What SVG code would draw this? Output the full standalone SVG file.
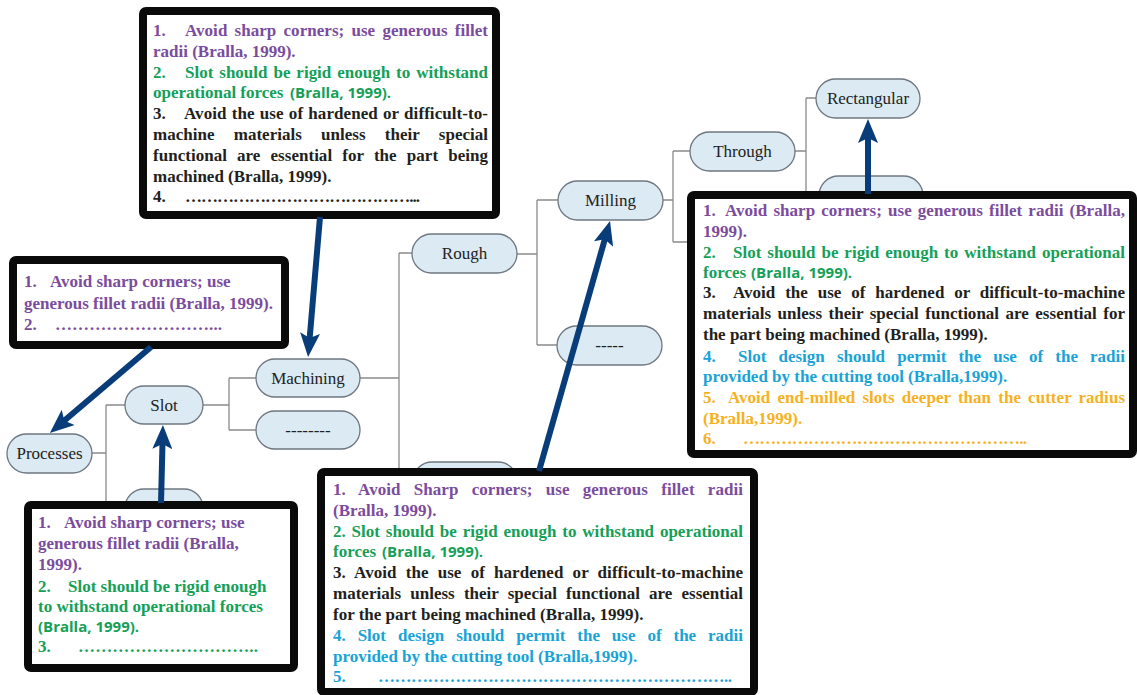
<svg xmlns="http://www.w3.org/2000/svg" width="1137" height="695" viewBox="0 0 1137 695">
  <style>
    .conn { fill: none; stroke: #8a8a8a; stroke-width: 1.3; }
    .node rect { fill: #dbeaf3; stroke: #6f7780; stroke-width: 1.3; }
    .node text { font-family: "Liberation Serif", "Times New Roman", serif; font-size: 17px; fill: #222; text-anchor: middle; }
    .frame { fill: #fff; stroke: #0a0a0a; stroke-width: 8; }
    .t { font-family: "Liberation Serif", "Times New Roman", serif; font-size: 17px; font-weight: bold; }
    .s { font-family: "Open Sans", "Liberation Sans", sans-serif; font-size: 15px; font-weight: bold; }
    .p { fill: #7b4c9e; }
    .g { fill: #15a058; }
    .k { fill: #231f20; }
    .c { fill: #1aa3d6; }
    .o { fill: #f6b11f; }
    .arrow { stroke: #083d7a; stroke-width: 6; fill: none; marker-end: url(#head); }
  </style>
  <defs>
    <marker id="head" markerUnits="userSpaceOnUse" markerWidth="24" markerHeight="20" viewBox="0 0 24 20" refX="6" refY="10" orient="auto">
      <path d="M0,0 L24,10 L0,20 L5,10 z" fill="#083d7a"/>
    </marker>
  </defs>

  <rect width="1137" height="695" fill="#fff"/>

  <!-- tree connectors -->
  <g id="connectors">
    <path class="conn" d="M92,453 H106 M106,405 V508 M106,405 H125 M106,508 H125"/>
    <path class="conn" d="M203,405 H229 M229,378 V430 M229,378 H256 M229,430 H256"/>
    <path class="conn" d="M360,378 H399 M399,253 V481 M399,253 H412 M399,481 H413"/>
    <path class="conn" d="M517,254 H537 M537,200 V345 M537,200 H558 M537,345 H557"/>
    <path class="conn" d="M663,200 H673 M673,151 V242 M673,151 H690 M673,242 H700"/>
    <path class="conn" d="M795,151 H806 M806,98 V195 M806,98 H816 M806,195 H819"/>
  </g>

  <!-- tree nodes -->
  <g id="node-processes" class="node"><rect x="7" y="434" width="85" height="39" rx="19.5"/><text x="49.5" y="459">Processes</text></g>
  <g id="node-slot" class="node"><rect x="125" y="386" width="78" height="38" rx="19"/><text x="164" y="411">Slot</text></g>
  <g id="node-slot-2" class="node"><rect x="125" y="489" width="78" height="38" rx="19"/></g>
  <g id="node-machining" class="node"><rect x="256" y="359" width="104" height="38" rx="19"/><text x="308" y="384">Machining</text></g>
  <g id="node-machining-other" class="node"><rect x="256" y="411" width="104" height="38" rx="19"/><text x="308" y="436">--------</text></g>
  <g id="node-rough" class="node"><rect x="412" y="234" width="105" height="39" rx="19.5"/><text x="464.5" y="259">Rough</text></g>
  <g id="node-rough-sibling" class="node"><rect x="413" y="462" width="104" height="38" rx="19"/></g>
  <g id="node-milling" class="node"><rect x="558" y="181" width="105" height="39" rx="19.5"/><text x="610.5" y="206">Milling</text></g>
  <g id="node-milling-other" class="node"><rect x="557" y="326" width="105" height="39" rx="19.5"/><text x="609.5" y="351">-----</text></g>
  <g id="node-through" class="node"><rect x="690" y="132" width="105" height="39" rx="19.5"/><text x="742.5" y="157">Through</text></g>
  <g id="node-through-sibling" class="node"><rect x="700" y="223" width="104" height="38" rx="19"/></g>
  <g id="node-rectangular" class="node"><rect x="816" y="79" width="104" height="39" rx="19.5"/><text x="868" y="104">Rectangular</text></g>
  <g id="node-rectangular-sibling" class="node"><rect x="819" y="176" width="104" height="39" rx="19.5"/></g>

  <!-- note: machining guidelines -->
  <g id="note-machining">
    <rect class="frame" x="143" y="11" width="353" height="204" rx="3"/>
    <text class="t p" x="153" y="36">1.</text>
    <text class="t p" x="185" y="36" word-spacing="2.9" textLength="303" lengthAdjust="spacing">Avoid sharp corners; use generous fillet</text>
    <text class="t p" x="153" y="57">radii (Bralla, 1999).</text>
    <text class="t g" x="153" y="78">2.</text>
    <text class="t g" x="185" y="78" word-spacing="1.7" textLength="303" lengthAdjust="spacing">Slot should be rigid enough to withstand</text>
    <text class="t g" x="153" y="98">operational forces</text>
    <text class="s g" x="290" y="98">(Bralla, 1999).</text>
    <text class="t k" x="153" y="119">3.</text>
    <text class="t k" x="184" y="119" word-spacing="0.9" textLength="304" lengthAdjust="spacing">Avoid the use of hardened or difficult-to-</text>
    <text class="t k" x="153" y="140" word-spacing="15" textLength="335" lengthAdjust="spacing">machine materials unless their special</text>
    <text class="t k" x="153" y="161" word-spacing="5.9" textLength="335" lengthAdjust="spacing">functional are essential for the part being</text>
    <text class="t k" x="153" y="182">machined (Bralla, 1999).</text>
    <text class="t k" x="153" y="202">4.</text>
    <text class="t k" x="185" y="202" textLength="235" lengthAdjust="spacing">……………………………………...</text>
  </g>

  <!-- note: process guidelines -->
  <g id="note-processes">
    <rect class="frame" x="13" y="260" width="272" height="85" rx="3"/>
    <text class="t p" x="24" y="287">1.</text>
    <text class="t p" x="50" y="287">Avoid sharp corners; use</text>
    <text class="t p" x="24" y="309">generous fillet radii (Bralla, 1999).</text>
    <text class="t p" x="24" y="330">2.</text>
    <text class="t p" x="55" y="330" textLength="167" lengthAdjust="spacing">………………………...</text>
  </g>

  <!-- note: slot guidelines -->
  <g id="note-slot">
    <rect class="frame" x="28" y="505" width="266" height="163" rx="3"/>
    <text class="t p" x="38" y="528">1.</text>
    <text class="t p" x="64" y="528">Avoid sharp corners; use</text>
    <text class="t p" x="38" y="549">generous fillet radii (Bralla,</text>
    <text class="t p" x="38" y="570">1999).</text>
    <text class="t g" x="38" y="592">2.</text>
    <text class="t g" x="68" y="592">Slot should be rigid enough</text>
    <text class="t g" x="38" y="612">to withstand operational forces</text>
    <text class="s g" x="38" y="632">(Bralla, 1999).</text>
    <text class="t g" x="38" y="652">3.</text>
    <text class="t g" x="78" y="652" textLength="180" lengthAdjust="spacing">…………………………..</text>
  </g>

  <!-- note: milling guidelines -->
  <g id="note-milling">
    <rect class="frame" x="321" y="472" width="433" height="220" rx="3"/>
    <text class="t p" x="333" y="495" word-spacing="8.9" textLength="410" lengthAdjust="spacing">1. Avoid Sharp corners; use generous fillet radii</text>
    <text class="t p" x="333" y="516">(Bralla, 1999).</text>
    <text class="t g" x="333" y="537" word-spacing="1.6" textLength="410" lengthAdjust="spacing">2. Slot should be rigid enough to withstand operational</text>
    <text class="t g" x="333" y="557">forces</text>
    <text class="s g" x="382" y="557">(Bralla, 1999).</text>
    <text class="t k" x="333" y="578" word-spacing="4.9" textLength="410" lengthAdjust="spacing">3. Avoid the use of hardened or difficult-to-machine</text>
    <text class="t k" x="333" y="599" word-spacing="4.9" textLength="410" lengthAdjust="spacing">materials unless their special functional are essential</text>
    <text class="t k" x="333" y="620">for the part being machined (Bralla, 1999).</text>
    <text class="t c" x="333" y="641" word-spacing="7.7" textLength="410" lengthAdjust="spacing">4. Slot design should permit the use of the radii</text>
    <text class="t c" x="333" y="662">provided by the cutting tool (Bralla,1999).</text>
    <text class="t c" x="333" y="682">5.</text>
    <text class="t c" x="378" y="682" textLength="354" lengthAdjust="spacing">………………………………………………………..</text>
  </g>

  <!-- note: rectangular slot guidelines -->
  <g id="note-rectangular">
    <rect class="frame" x="691" y="195" width="442" height="259" rx="3"/>
    <text class="t p" x="703" y="216">1.</text>
    <text class="t p" x="725" y="216" word-spacing="1.8" textLength="400" lengthAdjust="spacing">Avoid sharp corners; use generous fillet radii (Bralla,</text>
    <text class="t p" x="703" y="237">1999).</text>
    <text class="t g" x="703" y="258">2.</text>
    <text class="t g" x="733" y="258" word-spacing="1.7" textLength="392" lengthAdjust="spacing">Slot should be rigid enough to withstand operational</text>
    <text class="t g" x="703" y="278">forces</text>
    <text class="s g" x="751" y="278">(Bralla, 1999).</text>
    <text class="t k" x="703" y="298">3.</text>
    <text class="t k" x="733" y="298" word-spacing="5.5" textLength="392" lengthAdjust="spacing">Avoid the use of hardened or difficult-to-machine</text>
    <text class="t k" x="703" y="319" word-spacing="2.2" textLength="422" lengthAdjust="spacing">materials unless their special functional are essential for</text>
    <text class="t k" x="703" y="340">the part being machined (Bralla, 1999).</text>
    <text class="t c" x="703" y="362">4.</text>
    <text class="t c" x="738" y="362" word-spacing="7.9" textLength="387" lengthAdjust="spacing">Slot design should permit the use of the radii</text>
    <text class="t c" x="703" y="382">provided by the cutting tool (Bralla,1999).</text>
    <text class="t o" x="703" y="403">5.</text>
    <text class="t o" x="728" y="403" word-spacing="2.8" textLength="397" lengthAdjust="spacing">Avoid end-milled slots deeper than the cutter radius</text>
    <text class="t o" x="703" y="424">(Bralla,1999).</text>
    <text class="t o" x="703" y="444">6.</text>
    <text class="t o" x="743" y="444" textLength="284" lengthAdjust="spacing">……………………………………………..</text>
  </g>

  <!-- pointers from the notes to the nodes they describe -->
  <g id="pointers">
    <line class="arrow" x1="320" y1="217" x2="309.6" y2="339.1"/>
    <line class="arrow" x1="151" y1="347" x2="63.6" y2="421.3"/>
    <line class="arrow" x1="161" y1="503" x2="162.5" y2="443"/>
    <line class="arrow" x1="539" y1="471" x2="605.1" y2="238.3"/>
    <line class="arrow" x1="868" y1="194" x2="868" y2="137"/>
  </g>
</svg>
